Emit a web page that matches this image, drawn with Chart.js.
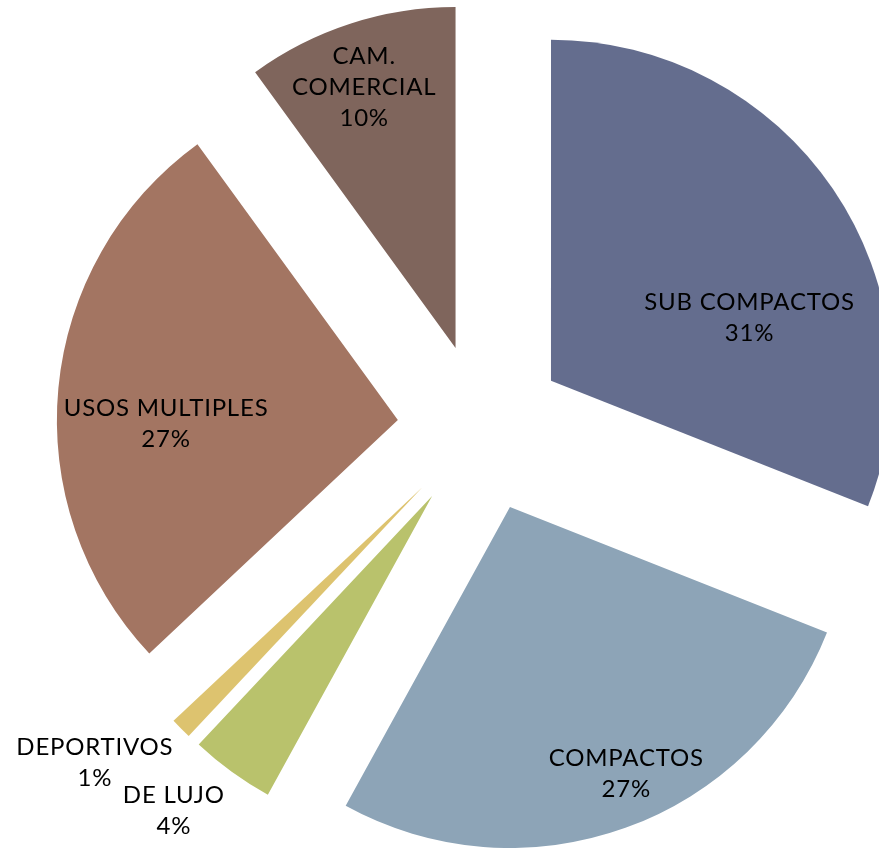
<!DOCTYPE html>
<html>
<head>
<meta charset="utf-8">
<script src="https://cdn.jsdelivr.net/npm/chart.js@4/dist/chart.umd.min.js"></script>
<style>
  html, body { margin: 0; padding: 0; background: #ffffff; }
  #wrap { width: 879px; height: 848px; }
</style>
</head>
<body>
<div id="wrap"><canvas id="c" width="879" height="848"></canvas></div>
<script>
// ---- data ----
const categories = ['SUB COMPACTOS', 'COMPACTOS', 'DE LUJO', 'DEPORTIVOS', 'USOS MULTIPLES', 'CAM. COMERCIAL'];
const shares = [31, 27, 4, 1, 27, 10];
const labelLines = [['SUB COMPACTOS'], ['COMPACTOS'], ['DE LUJO'], ['DEPORTIVOS'], ['USOS MULTIPLES'], ['CAM.', 'COMERCIAL']];

// ---- styling ----
const colors = ['#646D8E', '#8DA4B7', '#B9C26C', '#DDC36F', '#A37562', '#7F655C'];
const EXPLODE = 84;              // px each slice is pulled out
// label placement: distance from pie centre as fraction of radius, angle shift (deg)
const labelRadius = [0.85, 1.10, 1.44, 1.50, 0.925, 1.057];
const labelShift  = [11.8, -2.9, 2.8, 4.1, -4.7, -1.0];
const FONT = '24px Lato, "Open Sans", sans-serif';
const LETTER_SP = '0.8px';
const LINE_H = 31;

// explode every arc by translating along its mid angle
const origDraw = Chart.ArcElement.prototype.draw;
Chart.ArcElement.prototype.draw = function (ctx) {
  const mid = (this.startAngle + this.endAngle) / 2;
  ctx.save();
  ctx.translate(Math.cos(mid) * EXPLODE, Math.sin(mid) * EXPLODE);
  origDraw.call(this, ctx);
  ctx.restore();
};

const labelPlugin = {
  id: 'sliceLabels',
  afterDatasetsDraw(chart) {
    const ctx = chart.ctx;
    const meta = chart.getDatasetMeta(0);
    const total = shares.reduce((a, b) => a + b, 0);
    ctx.save();
    ctx.font = FONT;
    if ('letterSpacing' in ctx) ctx.letterSpacing = LETTER_SP;
    ctx.fillStyle = '#000000';
    ctx.textAlign = 'center';
    ctx.textBaseline = 'middle';
    meta.data.forEach((arc, i) => {
      const p = arc.getProps(['x', 'y', 'startAngle', 'endAngle', 'outerRadius'], true);
      const ang = (p.startAngle + p.endAngle) / 2 + labelShift[i] * Math.PI / 180;
      const d = labelRadius[i] * p.outerRadius;
      const cx = p.x + Math.cos(ang) * d;
      const cy = p.y + Math.sin(ang) * d;
      const lines = labelLines[i].concat([Math.round(shares[i] / total * 100) + '%']);
      const top = cy - (lines.length - 1) * LINE_H / 2;
      lines.forEach((t, j) => ctx.fillText(t, cx, top + j * LINE_H));
    });
    ctx.restore();
  }
};

new Chart(document.getElementById('c'), {
  type: 'pie',
  data: {
    labels: categories,
    datasets: [{
      data: shares,
      backgroundColor: colors,
      borderWidth: 0,
      clip: false
    }]
  },
  options: {
    responsive: false,
    animation: false,
    radius: 341,
    layout: { padding: { left: 84, right: 0, top: 8, bottom: 0 } },
    plugins: {
      legend: { display: false },
      tooltip: { enabled: false }
    },
    events: []
  },
  plugins: [labelPlugin]
});
</script>
</body>
</html>
